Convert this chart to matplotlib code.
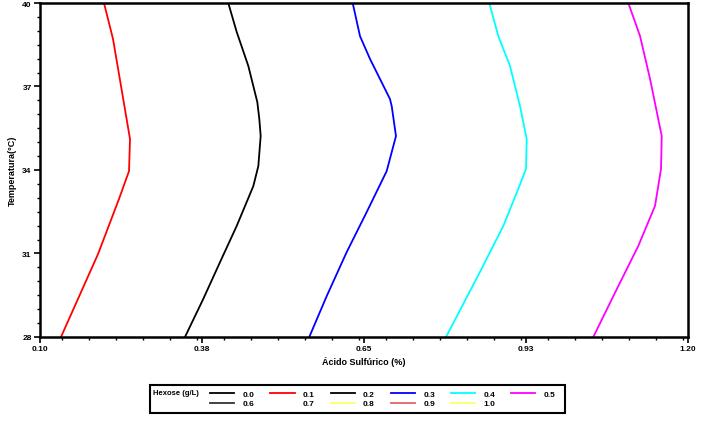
"""Contour lines of hexose vs. sulfuric acid and temperature."""

import matplotlib

matplotlib.use("Agg")
import matplotlib.pyplot as plt
from matplotlib.lines import Line2D
from matplotlib.patches import Rectangle
from matplotlib.ticker import MultipleLocator

plt.rcParams["font.family"] = ["Liberation Sans", "DejaVu Sans"]
plt.rcParams["font.weight"] = "bold"
plt.rcParams["axes.labelweight"] = "bold"

# contour lines: (acid %, temperature °C)
temp_01 = [40.0, 38.71, 37.02, 35.11, 33.96, 32.96, 30.98, 28.0]
acid_01 = [0.2086, 0.2239, 0.2375, 0.2528, 0.2511, 0.2341, 0.1985, 0.1356]

temp_02 = [40.0, 38.96, 37.74, 36.44, 35.83, 35.22, 34.14, 33.42, 31.99, 30.69, 29.37, 28.0]
acid_02 = [0.4196, 0.4339, 0.4536, 0.4689, 0.4723, 0.4746, 0.4706, 0.4621, 0.4339, 0.4056, 0.3772, 0.3461]

temp_03 = [40.0, 38.81, 37.99, 36.55, 36.30, 35.22, 33.96, 32.49, 31.05, 29.47, 28.0]
acid_03 = [0.6308, 0.6432, 0.6602, 0.6941, 0.6970, 0.7043, 0.6885, 0.6546, 0.6206, 0.5867, 0.5571]

temp_04 = [40.0, 38.81, 37.74, 36.30, 35.11, 34.04, 33.32, 31.99, 30.34, 28.0]
acid_04 = [0.8627, 0.8780, 0.8978, 0.9148, 0.9262, 0.9250, 0.9119, 0.8865, 0.8469, 0.7892]

temp_05 = [40.0, 38.81, 37.27, 35.22, 34.04, 32.71, 31.27, 29.83, 28.0]
acid_05 = [1.0987, 1.1186, 1.1356, 1.1554, 1.1542, 1.1440, 1.1156, 1.0817, 1.0392]

levels = ["0.0", "0.1", "0.2", "0.3", "0.4", "0.5", "0.6", "0.7", "0.8", "0.9", "1.0"]
level_colors = ["black", "red", "black", "blue", "cyan", "magenta",
                "#333333", "white", "#ffff66", "#e06666", "#ffff66"]

x_ticks = [0.10, 0.375, 0.65, 0.925, 1.20]
x_tick_labels = ["0.10", "0.38", "0.65", "0.93", "1.20"]
y_ticks = [28, 31, 34, 37, 40]

fig = plt.figure(figsize=(7.09, 4.27), dpi=100)
ax = fig.add_axes([40 / 709, 1 - 338 / 427, 648 / 709, 334 / 427])

curves = [(acid_01, temp_01, 1), (acid_02, temp_02, 2), (acid_03, temp_03, 3),
          (acid_04, temp_04, 4), (acid_05, temp_05, 5)]
for acid, temp, idx in curves:
    ax.plot(acid, temp, color=level_colors[idx], lw=1.3)

ax.set_xlim(0.10, 1.20)
ax.set_ylim(28, 40)
ax.set_xticks(x_ticks)
ax.set_xticklabels(x_tick_labels)
ax.set_yticks(y_ticks)
ax.xaxis.set_minor_locator(MultipleLocator(0.275 / 6))
ax.yaxis.set_minor_locator(MultipleLocator(0.5))
ax.tick_params(which="major", length=4, width=1.2, labelsize=6, pad=2)
ax.tick_params(which="minor", length=2.5, width=1.0)
for spine in ax.spines.values():
    spine.set_linewidth(1.8)

ax.set_xlabel("Ácido Sulfúrico (%)", fontsize=6.5, labelpad=3)
ax.set_ylabel("Temperatura(°C)", fontsize=6.5, labelpad=4)

# legend: two rows, filled row by row
order = [0, 6, 1, 7, 2, 8, 3, 9, 4, 10, 5]
handles = [Line2D([], [], color=level_colors[i], lw=1.3) for i in order]
labels = [levels[i] for i in order]
fig.legend(handles, labels, ncol=6, frameon=False, fontsize=6,
           loc="center left", bbox_to_anchor=(206 / 709, 1 - 400 / 427),
           handlelength=2.9, handletextpad=1.0, columnspacing=1.9,
           labelspacing=0.15, borderpad=0)
fig.patches.append(Rectangle((150 / 709, 1 - 414 / 427), 415 / 709, 28 / 427,
                             transform=fig.transFigure, fill=False,
                             edgecolor="black", lw=1.5))
fig.text(153 / 709, 1 - 394 / 427, "Hexose (g/L)", fontsize=5.5, va="center")

fig.savefig("out.png", dpi=100)
